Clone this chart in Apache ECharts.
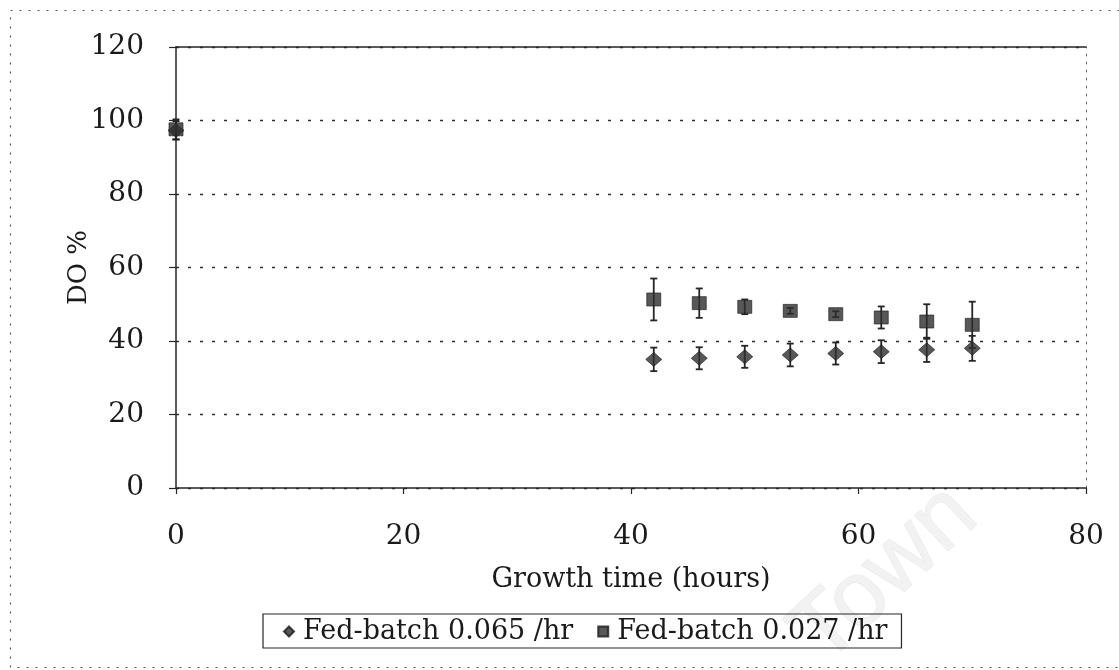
<!DOCTYPE html>
<html>
<head>
<meta charset="utf-8">
<script src="https://cdn.jsdelivr.net/npm/echarts@6/dist/echarts.min.js"></script>
<style>
  html, body { margin: 0; padding: 0; background: #ffffff; }
  #chart { width: 1119px; height: 670px; }
</style>
</head>
<body>
<div id="chart"></div>
<script>
// Sampling times (hours)
const hours = [0, 42, 46, 50, 54, 58, 62, 66, 70];

// Dissolved oxygen (%) and standard deviations, fed-batch at 0.065 /hr
const do065 = [97.3, 35.0, 35.3, 35.7, 36.2, 36.6, 37.1, 37.6, 38.0];
const sd065 = [2.5, 3.2, 3.0, 3.0, 3.1, 3.0, 3.1, 3.3, 3.4];

// Dissolved oxygen (%) and standard deviations, fed-batch at 0.027 /hr
const do027 = [97.6, 51.3, 50.3, 49.3, 48.2, 47.3, 46.4, 45.3, 44.4];
const sd027 = [2.7, 5.7, 4.0, 2.0, 0.8, 0.8, 3.0, 4.7, 6.3];

const seriesNames = ['Fed-batch 0.065 /hr', 'Fed-batch 0.027 /hr'];
const xTicks = [0, 20, 40, 60, 80];
const yTicks = [0, 20, 40, 60, 80, 100, 120];

const ink = '#262626';
const fontFamily = '"DejaVu Serif", "Liberation Serif", serif';

function points(values) {
  return hours.map((h, i) => [h, values[i]]);
}
function bars(values, sds) {
  return hours.map((h, i) => [h, values[i] - sds[i], values[i] + sds[i]]);
}

// Vertical whisker with short caps at mean ± SD
function errorBar(params, api) {
  const x = api.value(0);
  const lo = api.coord([x, api.value(1)]);
  const hi = api.coord([x, api.value(2)]);
  const cap = 3.5;
  const style = { stroke: ink, lineWidth: 1.8 };
  return {
    type: 'group',
    children: [
      { type: 'line', shape: { x1: hi[0], y1: hi[1], x2: lo[0], y2: lo[1] }, style },
      { type: 'line', shape: { x1: hi[0] - cap, y1: hi[1], x2: hi[0] + cap, y2: hi[1] }, style },
      { type: 'line', shape: { x1: lo[0] - cap, y1: lo[1], x2: lo[0] + cap, y2: lo[1] }, style }
    ]
  };
}

const chart = echarts.init(document.getElementById('chart'), null, { renderer: 'canvas' });

chart.setOption({
  animation: false,
  backgroundColor: '#ffffff',
  textStyle: { fontFamily },
  grid: { left: 176, right: 33, top: 47, bottom: 182, containLabel: false },
  graphic: [
    {
      type: 'rect',
      z: -10,
      shape: { x: 10.5, y: 10.5, width: 1125, height: 657 },
      style: { fill: 'none', stroke: '#555', lineWidth: 1.2, lineDash: [2, 7] }
    },
    {
      type: 'text',
      z: -5,
      x: 885,
      y: 575,
      rotation: 0.75,
      style: {
        text: 'Town',
        fill: '#f2f2f2',
        stroke: '#e6e6e6',
        lineWidth: 1,
        font: '92px "Liberation Sans", Arial, sans-serif',
        align: 'center',
        verticalAlign: 'middle'
      }
    }
  ],
  legend: {
    left: 263,
    top: 614,
    itemGap: 24,
    itemWidth: 10,
    itemHeight: 10,
    padding: [4, 14, 3, 20],
    borderColor: ink,
    borderWidth: 1.2,
    borderRadius: 0,
    data: [
      { name: seriesNames[0], icon: 'diamond' },
      { name: seriesNames[1], icon: 'rect' }
    ],
    textStyle: { fontFamily, fontSize: 27, color: '#1a1a1a', padding: [0, 0, 0, 4] }
  },
  xAxis: [
    {
      type: 'value',
      min: 0,
      max: 80,
      interval: 20,
      name: 'Growth time (hours)',
      nameLocation: 'middle',
      nameGap: 78,
      nameMoveOverlap: false,
      nameTextStyle: { fontFamily, fontSize: 27, color: '#1a1a1a' },
      axisLine: { show: true, onZero: false, lineStyle: { color: ink, width: 1.5 } },
      axisTick: { show: true, inside: false, length: 6, lineStyle: { color: ink, width: 1.2 } },
      axisLabel: {
        margin: 35,
        fontSize: 28,
        color: '#1a1a1a',
        fontFamily,
        customValues: xTicks
      },
      splitLine: { show: false }
    },
    {
      type: 'value',
      position: 'top',
      min: 0,
      max: 80,
      axisLine: { show: true, onZero: false, lineStyle: { color: ink, width: 1.5 } },
      axisTick: { show: false },
      axisLabel: { show: false },
      splitLine: { show: false }
    }
  ],
  yAxis: [
    {
      type: 'value',
      min: 0,
      max: 120,
      interval: 20,
      name: 'DO %',
      nameLocation: 'middle',
      nameGap: 84,
      nameMoveOverlap: false,
      nameTextStyle: { fontFamily, fontSize: 26, color: '#1a1a1a' },
      axisLine: { show: true, onZero: false, lineStyle: { color: ink, width: 1.5 } },
      axisTick: { show: true, inside: false, length: 7, lineStyle: { color: ink, width: 1.2 } },
      axisLabel: {
        margin: 32,
        fontSize: 28,
        color: '#1a1a1a',
        fontFamily,
        customValues: yTicks
      },
      splitLine: { show: true, lineStyle: { color: '#2e2e2e', width: 1.3, type: [3, 9] } }
    },
    {
      type: 'value',
      position: 'right',
      min: 0,
      max: 120,
      interval: 20,
      axisLine: { show: true, onZero: false, lineStyle: { color: '#666', width: 1, type: [2, 6] } },
      axisTick: { show: false },
      axisLabel: { show: false },
      splitLine: { show: false }
    }
  ],
  series: [
    {
      name: seriesNames[0] + ' SD',
      type: 'custom',
      renderItem: errorBar,
      data: bars(do065, sd065),
      z: 2,
      silent: true
    },
    {
      name: seriesNames[1] + ' SD',
      type: 'custom',
      renderItem: errorBar,
      data: bars(do027, sd027),
      z: 2,
      silent: true
    },
    {
      name: seriesNames[0],
      type: 'scatter',
      symbol: 'diamond',
      symbolSize: [16, 14],
      itemStyle: { color: '#2e2e2e', borderColor: '#1a1a1a', borderWidth: 0.8 },
      data: points(do065),
      z: 3
    },
    {
      name: seriesNames[1],
      type: 'scatter',
      symbol: 'rect',
      symbolSize: [14, 13],
      itemStyle: { color: '#2e2e2e', borderColor: '#1a1a1a', borderWidth: 0.8 },
      data: points(do027),
      z: 4
    }
  ]
});
</script>
</body>
</html>
